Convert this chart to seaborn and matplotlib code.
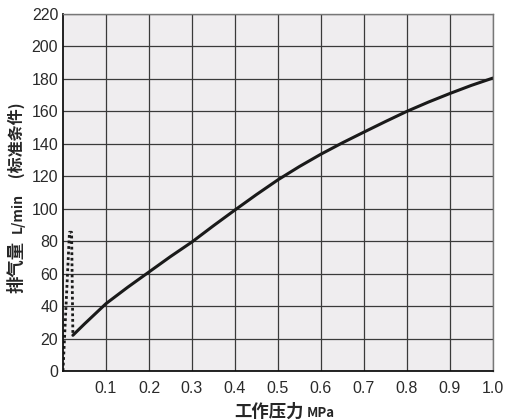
import pandas as pd
import matplotlib.pyplot as plt
import seaborn as sns

# 实线：工作压力 vs 排气量
pressure = [0.023, 0.05, 0.1, 0.15, 0.2, 0.25, 0.3, 0.35, 0.4, 0.45, 0.5,
            0.55, 0.6, 0.65, 0.7, 0.75, 0.8, 0.85, 0.9, 0.95, 1.0]
flow = [22, 29, 41.5, 51.5, 61, 70.5, 79.5, 89.5, 99.2, 108.7, 117.8,
        126, 133.6, 140.6, 147.2, 153.7, 160, 165.7, 171, 176, 180.5]

# 虚线：起始段
dot_pressure = [0.0, 0.015, 0.02, 0.023]
dot_flow = [0, 85.5, 85.5, 22]

x_ticks = [0.1, 0.2, 0.3, 0.4, 0.5, 0.6, 0.7, 0.8, 0.9, 1.0]
x_labels = ['0.1', '0.2', '0.3', '0.4', '0.5', '0.6', '0.7', '0.8', '0.9', '1.0']
y_ticks = list(range(0, 221, 20))

df = pd.DataFrame({'p': pressure, 'q': flow})
df_dot = pd.DataFrame({'p': dot_pressure, 'q': dot_flow})

sns.set_style('white')
plt.rcParams['font.family'] = ['Liberation Sans', 'DejaVu Sans']
cjk = ['Noto Sans CJK SC', 'DejaVu Sans']

fig = plt.figure(figsize=(5.06, 4.2), dpi=100)
ax = fig.add_axes([0.1245, 0.1167, 0.8495, 0.85])
ax.set_facecolor('#efedef')

sns.lineplot(data=df, x='p', y='q', ax=ax, color='#1a1a1a', linewidth=2.2, sort=False)
sns.lineplot(data=df_dot, x='p', y='q', ax=ax, color='#1a1a1a', linewidth=2.0,
             linestyle=(0, (1, 1)), sort=False)

ax.set_xlim(0, 1.0)
ax.set_ylim(0, 220)
ax.set_xticks(x_ticks)
ax.set_xticklabels(x_labels)
ax.set_yticks(y_ticks)
ax.tick_params(axis='both', length=0, labelsize=11.5, colors='#2a2a2a')
ax.tick_params(axis='y', pad=3.5)
ax.tick_params(axis='x', pad=7)

ax.grid(True, color='#3a3a3a', linewidth=0.9)
ax.set_axisbelow(True)
for side in ['top', 'right']:
    ax.spines[side].set_color('#777777')
    ax.spines[side].set_linewidth(1.0)
for side in ['left', 'bottom']:
    ax.spines[side].set_color('#111111')
    ax.spines[side].set_linewidth(1.3)

ax.set_xlabel('')
ax.set_ylabel('')

# x 轴标题
fig.text(304 / 506, 1 - 411.5 / 420, '工作压力', ha='right', va='center', fontsize=12.5,
         fontweight='bold', family=cjk)
fig.text(307 / 506, 1 - 413 / 420, 'MPa', ha='left', va='center', fontsize=9.5,
         fontweight='bold', family=cjk)

# y 轴标题
ylab = dict(rotation=90, rotation_mode='anchor', ha='center', va='center',
            fontweight='bold', family=cjk)
fig.text(16.5 / 506, 1 - 267 / 420, '排气量', fontsize=12.5, **ylab)
fig.text(18 / 506, 1 - 213 / 420, 'L/min', fontsize=10, **ylab)
fig.text(16.5 / 506, 1 - 140 / 420, ' (标准条件) ', fontsize=11.5, **ylab)

plt.savefig('out.png', dpi=100)
